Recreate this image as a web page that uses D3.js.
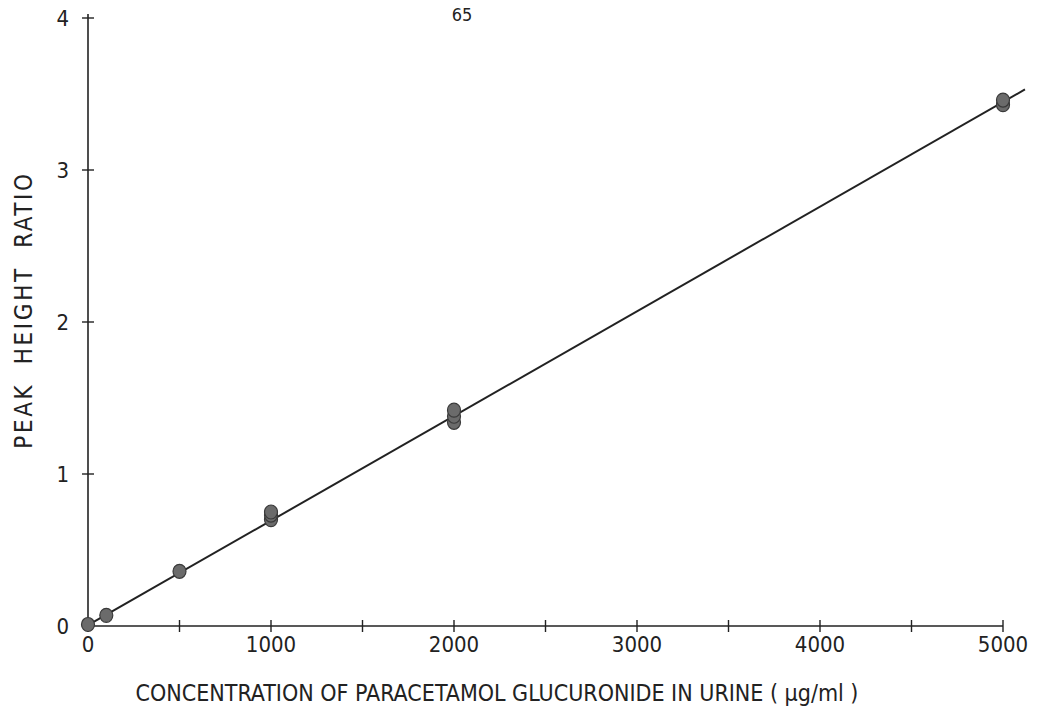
<!DOCTYPE html>
<html>
<head>
<meta charset="utf-8">
<script src="https://cdn.jsdelivr.net/npm/d3@7"></script>
<style>
  html, body { margin: 0; padding: 0; background: #fff; }
  svg { display: block; }
  text { font-family: "DejaVu Sans Condensed", "DejaVu Sans", sans-serif; fill: #222; }
</style>
</head>
<body>
<svg id="chart" width="1037" height="725"></svg>
<script>
// Calibration: peak height ratio against paracetamol glucuronide concentration
const concentrations = [0, 100, 500, 1000, 1000, 1000, 2000, 2000, 2000, 5000, 5000];
const peakRatios     = [0.01, 0.07, 0.36, 0.70, 0.73, 0.75, 1.34, 1.38, 1.42, 3.43, 3.46];

// Fitted calibration line endpoints (concentration, ratio)
const fitX = [0, 5120];
const fitY = [0.005, 3.53];

const xTickValues = [0, 1000, 2000, 3000, 4000, 5000];
const xMinorTicks = [500, 1500, 2500, 3500, 4500];
const yTickValues = [0, 1, 2, 3, 4];

const xTitle = "CONCENTRATION OF PARACETAMOL GLUCURONIDE IN URINE ( \u00b5g/ml )";
const yTitle = "PEAK HEIGHT RATIO";
const pageNumber = "65";

const svg = d3.select("#chart");
const ink = "#222";

const x = d3.scaleLinear().domain([0, 5000]).range([88, 1003]);
const y = d3.scaleLinear().domain([0, 4]).range([626, 18]);

// x axis: line with ticks crossing it
const xAxis = svg.append("g").attr("transform", `translate(0,${y(0)})`);
xAxis.append("line")
  .attr("x1", x(0) - 6).attr("x2", x(5000))
  .attr("stroke", ink).attr("stroke-width", 1.6);
xAxis.selectAll("line.tick")
  .data(xTickValues.concat(xMinorTicks))
  .join("line").attr("class", "tick")
  .attr("x1", d => x(d)).attr("x2", d => x(d))
  .attr("y1", -6).attr("y2", 6)
  .attr("stroke", ink).attr("stroke-width", 1.4);
xAxis.selectAll("text")
  .data(xTickValues)
  .join("text")
  .attr("x", d => x(d)).attr("y", 26)
  .attr("text-anchor", "middle")
  .attr("font-size", 22)
  .text(d => d);

// y axis
const yAxis = svg.append("g").attr("transform", `translate(${x(0)},0)`);
yAxis.append("line")
  .attr("y1", y(0) + 6).attr("y2", y(4) - 4)
  .attr("stroke", ink).attr("stroke-width", 1.6);
yAxis.selectAll("line.tick")
  .data(yTickValues)
  .join("line").attr("class", "tick")
  .attr("y1", d => y(d)).attr("y2", d => y(d))
  .attr("x1", -6).attr("x2", 6)
  .attr("stroke", ink).attr("stroke-width", 1.4);
yAxis.selectAll("text")
  .data(yTickValues)
  .join("text")
  .attr("x", -19).attr("y", d => y(d) + 8)
  .attr("text-anchor", "end")
  .attr("font-size", 22)
  .text(d => d);

// fitted calibration line
svg.append("line")
  .attr("x1", x(fitX[0])).attr("y1", y(fitY[0]))
  .attr("x2", x(fitX[1])).attr("y2", y(fitY[1]))
  .attr("stroke", ink).attr("stroke-width", 2);

// measured points
svg.append("g").selectAll("ellipse")
  .data(concentrations.map((c, i) => [c, peakRatios[i]]))
  .join("ellipse")
  .attr("cx", d => x(d[0])).attr("cy", d => y(d[1]))
  .attr("rx", 6.5).attr("ry", 7)
  .attr("fill", "#6b6b6b")
  .attr("stroke", "#3a3a3a").attr("stroke-width", 1.2);

// titles
svg.append("text")
  .attr("x", 497).attr("y", 701)
  .attr("text-anchor", "middle")
  .attr("font-size", 23)
  .text(xTitle);

svg.append("text")
  .attr("transform", `translate(32,310) rotate(-90)`)
  .attr("text-anchor", "middle")
  .attr("font-size", 24)
  .attr("letter-spacing", 2.6)
  .attr("word-spacing", 9)
  .text(yTitle);

svg.append("text")
  .attr("x", 462).attr("y", 21)
  .attr("text-anchor", "middle")
  .attr("font-size", 18)
  .text(pageNumber);
</script>
</body>
</html>
